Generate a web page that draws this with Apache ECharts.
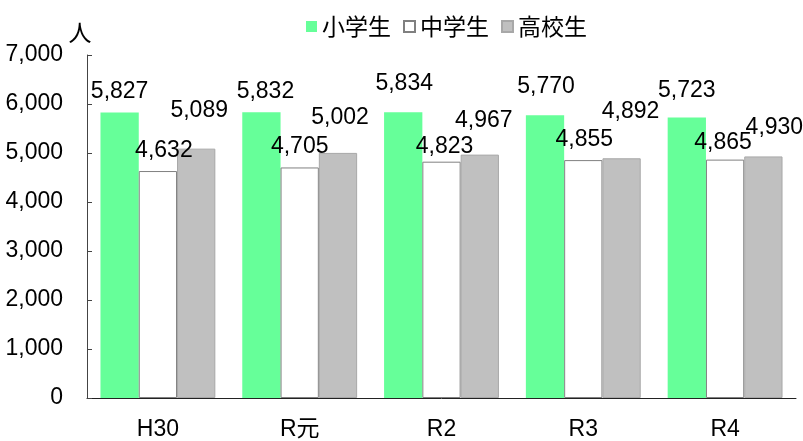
<!DOCTYPE html>
<html>
<head>
<meta charset="utf-8">
<script src="https://cdn.jsdelivr.net/npm/echarts@6/dist/echarts.min.js"></script>
<style>
  html, body { margin: 0; padding: 0; background: #fff; }
  #chart { width: 803px; height: 441px; }
</style>
</head>
<body>
<div id="chart"></div>
<script>
const categories = ['H30', 'R元', 'R2', 'R3', 'R4']
const elementary = [5827, 5832, 5834, 5770, 5723]
const juniorHigh = [4632, 4705, 4823, 4855, 4865]
const highSchool = [5089, 5002, 4967, 4892, 4930]

// label nudges [dx, dy] so the numbers sit like in the original
const elemLabelShift = [[0, 0], [4, 0], [1, -8], [1, -8], [0, -6]]
const juniorLabelShift = [[6, 0], [0, 0], [3, 5], [1, 0], [-2, 4]]
const highLabelShift = [[3, -17], [2, -15], [4, -13], [9, -26], [11, -8]]

const font = '"Liberation Sans", "Noto Sans CJK JP", sans-serif'
const cjkFont = '"Noto Sans CJK JP", sans-serif'

const chart = echarts.init(document.getElementById('chart'))

function makeSeries(name, values, shifts, style) {
  return {
    name: name,
    type: 'bar',
    barGap: 0,
    barCategoryGap: '19%',
    itemStyle: style,
    label: {
      show: true,
      position: 'top',
      distance: 9,
      color: '#000',
      fontFamily: font,
      fontSize: 23,
      formatter: p => p.value.toLocaleString('en-US')
    },
    data: values.map((v, i) => ({ value: v, label: { offset: shifts[i] } }))
  }
}

const option = {
  animation: false,
  textStyle: { fontFamily: font },
  legend: {
    top: 10,
    left: 301,
    itemWidth: 11,
    itemHeight: 11,
    itemGap: 12,
    icon: 'rect',
    textStyle: { fontSize: 23, color: '#000', fontFamily: cjkFont },
    data: ['小学生', '中学生', '高校生']
  },
  grid: { left: 87, right: 7, top: 55, bottom: 41 },
  xAxis: {
    type: 'category',
    data: categories,
    axisLine: { lineStyle: { color: '#222', width: 1 } },
    axisTick: { show: false },
    axisLabel: { color: '#000', fontSize: 23, margin: 20, fontFamily: font }
  },
  yAxis: {
    type: 'value',
    min: 0,
    max: 7000,
    interval: 1000,
    name: '人',
    nameLocation: 'end',
    nameGap: 10,
    nameTextStyle: { color: '#000', fontSize: 23, padding: [0, 14, 0, 0], fontFamily: cjkFont },
    axisLine: { show: true, lineStyle: { color: '#444', width: 1 } },
    axisTick: { show: true, inside: true, length: 5, lineStyle: { color: '#444' } },
    splitLine: { show: false },
    axisLabel: {
      color: '#000',
      fontSize: 23,
      margin: 24,
      fontFamily: font,
      formatter: v => v.toLocaleString('en-US')
    }
  },
  series: [
    makeSeries('小学生', elementary, elemLabelShift, { color: '#66ff99' }),
    makeSeries('中学生', juniorHigh, juniorLabelShift, { color: '#ffffff', borderColor: '#808080', borderWidth: 1 }),
    makeSeries('高校生', highSchool, highLabelShift, { color: '#c0c0c0', borderColor: '#a8a8a8', borderWidth: 1 })
  ]
}

chart.setOption(option)
window.addEventListener('resize', () => chart.resize())
</script>
</body>
</html>
